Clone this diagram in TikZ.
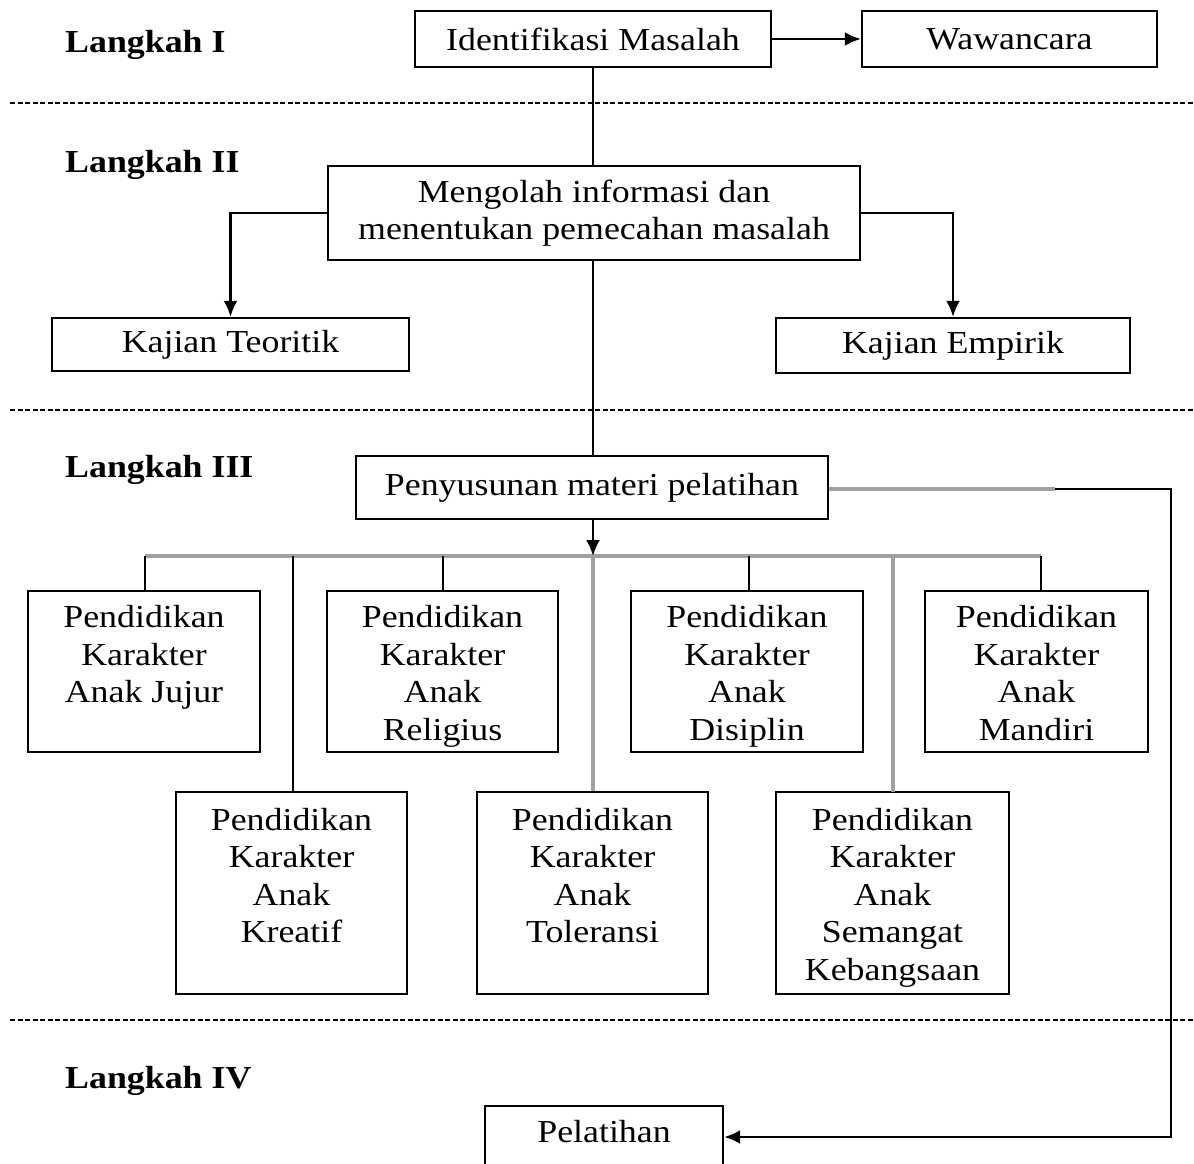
\documentclass[tikz,border=0pt]{standalone}
\usepackage{fontspec}
\setmainfont{Liberation Serif}[FakeStretch=1.12]
\usetikzlibrary{arrows.meta}
\definecolor{lgray}{HTML}{A0A0A0}
\newcommand\tstrut{\rule{0pt}{36pt}}
\begin{document}
\begin{tikzpicture}[x=1pt,y=-1pt,
  every node/.style={font=\fontsize{32pt}{37.5pt}\selectfont},
  box/.style={draw, line width=2.4pt, inner sep=0pt, align=center},
  lbl/.style={anchor=west, inner sep=0pt, font=\fontsize{32pt}{37.5pt}\selectfont\bfseries},
  conn/.style={line width=2.4pt},
  gconn/.style={line width=3.6pt, lgray},
  arr/.style={-{Latex[length=16pt,width=14pt]}},
  sep/.style={line width=1.5pt, dash pattern=on 5pt off 2.5pt}]
\useasboundingbox (0,0) rectangle (1194,1164);
\fill[white] (0,0) rectangle (1194,1164);

% separators
\draw[sep] (10,103) -- (1194,103);
\draw[sep] (10,410) -- (1194,410);
\draw[sep] (10,1020) -- (1194,1020);

% step labels
\node[lbl] (l1) at (65,45) {Langkah I};
\node[lbl] (l2) at (65,165) {Langkah II};
\node[lbl] (l3) at (65,470) {Langkah III};
\node[lbl] (l4) at (65,1081) {Langkah IV};

% boxes
\node[box, minimum width=356pt, minimum height=56pt] (idm) at (593,39) {Identifikasi Masalah};
\node[box, minimum width=295pt, minimum height=56pt] (waw) at (1009.5,39) {Wawancara};
\node[box, minimum width=532pt, minimum height=94pt] (meng) at (594,213) {Mengolah informasi dan\\menentukan pemecahan masalah};
\node[box, minimum width=357pt, minimum height=53pt] (kt) at (230.5,344.5) {Kajian Teoritik};
\node[box, minimum width=354pt, minimum height=55pt] (ke) at (953,345.5) {Kajian Empirik};
\node[box, minimum width=472pt, minimum height=63pt] (pen) at (592,487.5) {Penyusunan materi pelatihan};

\node[box, minimum width=232pt, minimum height=161pt] (b1) at (144,671.5) {\tstrut Pendidikan\\\strut Karakter\\\strut Anak Jujur\\\strut};
\node[box, minimum width=231pt, minimum height=161pt] (b2) at (442.5,671.5) {\tstrut Pendidikan\\\strut Karakter\\\strut Anak\\\strut Religius};
\node[box, minimum width=232pt, minimum height=161pt] (b3) at (747,671.5) {\tstrut Pendidikan\\\strut Karakter\\\strut Anak\\\strut Disiplin};
\node[box, minimum width=223pt, minimum height=161pt] (b4) at (1036.5,671.5) {\tstrut Pendidikan\\\strut Karakter\\\strut Anak\\\strut Mandiri};

\node[box, minimum width=231pt, minimum height=202pt] (b5) at (291.5,893) {\tstrut Pendidikan\\\strut Karakter\\\strut Anak\\\strut Kreatif\\\strut};
\node[box, minimum width=231pt, minimum height=202pt] (b6) at (592.5,893) {\tstrut Pendidikan\\\strut Karakter\\\strut Anak\\\strut Toleransi\\\strut};
\node[box, minimum width=233pt, minimum height=202pt] (b7) at (892.5,893) {\tstrut Pendidikan\\\strut Karakter\\\strut Anak\\\strut Semangat\\\strut Kebangsaan};

\node[box, minimum width=238pt, minimum height=86pt] (pel) at (604,1149) {\tstrut Pelatihan\\\strut};

% connectors
\draw[conn, arr] (idm.east) -- (waw.west);
\draw[conn] (idm.south) -- (idm.south |- meng.north);
\draw[conn, arr] (meng.west) -| (kt.north);
\draw[conn, arr] (meng.east) -| (ke.north);
\draw[conn] (meng.south -| idm.south) -- (idm.south |- pen.north);

\coordinate (bus) at (593,556);
\coordinate (busL) at (145,556);
\coordinate (busR) at (1041,556);
\draw[gconn] (busL) -- (busR);
\draw[conn, arr] (pen.south -| bus) -- (bus);
\draw[conn] (busL) -- (busL |- b1.north);
\draw[conn] (443,556) -- (443,591);
\draw[conn] (749,556) -- (749,591);
\draw[conn] (busR) -- (busR |- b4.north);
\draw[conn] (293,556) -- (293,792);
\draw[gconn] (bus) -- (bus |- b6.north);
\draw[gconn] (893,556) -- (893,792);

\coordinate (g) at (1055,489);
\coordinate (c1) at (1171,489);
\coordinate (c2) at (1171,1137);
\draw[gconn] (pen.east |- g) -- (g);
\draw[conn, arr] (g) -- (c1) -- (c2) -- (pel.east |- c2);
\end{tikzpicture}
\end{document}
